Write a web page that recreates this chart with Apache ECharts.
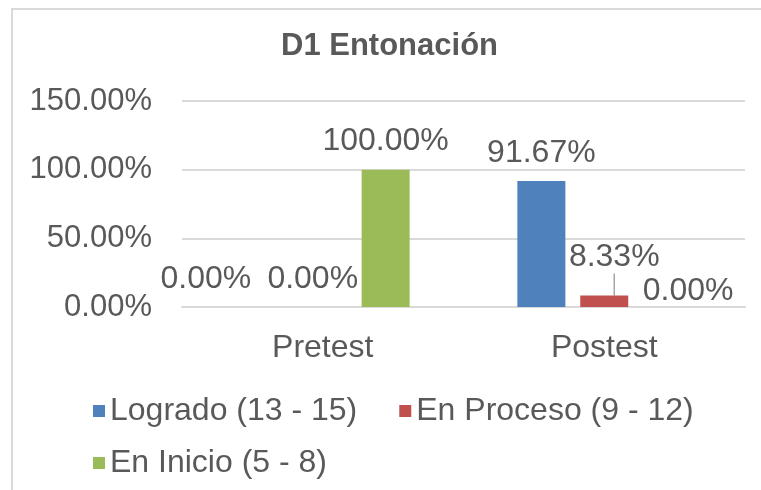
<!DOCTYPE html>
<html>
<head>
<meta charset="utf-8">
<script src="https://cdn.jsdelivr.net/npm/echarts@6/dist/echarts.min.js"></script>
<style>
  html, body { margin: 0; padding: 0; background: #fff; overflow: hidden; }
  #main { width: 761px; height: 490px; position: relative; }
  #frame { position: absolute; left: 11px; top: 8px; right: 0; bottom: 0;
           border-top: 2px solid #d9d9d9; border-left: 2px solid #d9d9d9; pointer-events: none; }
</style>
</head>
<body>
<div id="main"></div>
<div id="frame"></div>
<script>
// datos del gráfico
var categorias = ['Pretest', 'Postest'];
var series = ['Logrado (13 - 15)', 'En Proceso (9 - 12)', 'En Inicio (5 - 8)'];
var logrado = [0, 91.67];
var enProceso = [0, 8.33];
var enInicio = [100, 0];
var colores = ['#4f81bd', '#c0504d', '#9bbb59'];

var txt = '#595959';
var fuente = 'Liberation Sans, Arial, sans-serif';

let myChart = echarts.init(document.getElementById('main'));

// etiquetas movidas a mano como en el original
var movidas = {
	0: [[-54, 0], [0, 0]],
	1: [[-10, 0], [10, -10]],
	2: [[0, 0], [21, 12]]
};

function etiqueta() {
	return {
		show: true, position: 'top', distance: 12,
		fontSize: 32, color: txt,
		formatter: function (p) { return p.value.toFixed(2) + '%'; }
	};
}

function mover(p) {
	var d = movidas[p.seriesIndex][p.dataIndex];
	return { dx: d[0], dy: d[1] };
}

let option = {
	animation: false,
	color: colores,
	textStyle: { fontFamily: fuente },
	title: {
		text: 'D1 Entonación',
		left: 276,
		top: 26,
		textStyle: { fontSize: 31, fontWeight: 'bold', color: txt, fontFamily: fuente }
	},
	legend: [
		{
			data: series.slice(0, 2),
			left: 88,
			top: 390,
			itemWidth: 12,
			itemHeight: 12,
			itemGap: 42,
			icon: 'rect',
			textStyle: { fontSize: 32, color: txt, fontFamily: fuente }
		},
		{
			data: series.slice(2),
			left: 88,
			top: 442,
			itemWidth: 12,
			itemHeight: 12,
			icon: 'rect',
			textStyle: { fontSize: 32, color: txt, fontFamily: fuente }
		}
	],
	grid: { left: 182, right: 16, top: 101, bottom: 183 },
	xAxis: {
		type: 'category',
		data: categorias,
		axisTick: { show: false },
		axisLine: { lineStyle: { color: '#d9d9d9', width: 2 } },
		axisLabel: { fontSize: 32, color: txt, margin: 25 }
	},
	yAxis: {
		type: 'value',
		min: 0,
		max: 150,
		interval: 50,
		axisLine: { show: false },
		axisTick: { show: false },
		splitLine: { lineStyle: { color: '#d9d9d9', width: 2 } },
		axisLabel: {
			fontSize: 31, color: txt, margin: 30,
			formatter: function (v) { return v.toFixed(2) + '%'; }
		}
	},
	series: [
		{
			name: series[0],
			type: 'bar',
			barWidth: 48,
			barGap: '31%',
			data: logrado,
			label: etiqueta(),
			labelLayout: mover
		},
		{
			name: series[1],
			type: 'bar',
			barWidth: 48,
			data: enProceso.map(function (v, i) {
				return i === 0 ? { value: v, labelLine: { show: false } } : v;
			}),
			label: etiqueta(),
			labelLine: { show: true, lineStyle: { color: '#a6a6a6', width: 1.5 } },
			labelLayout: mover
		},
		{
			name: series[2],
			type: 'bar',
			barWidth: 48,
			data: enInicio,
			label: etiqueta(),
			labelLayout: mover
		}
	]
};

myChart.setOption(option);
</script>
</body>
</html>
